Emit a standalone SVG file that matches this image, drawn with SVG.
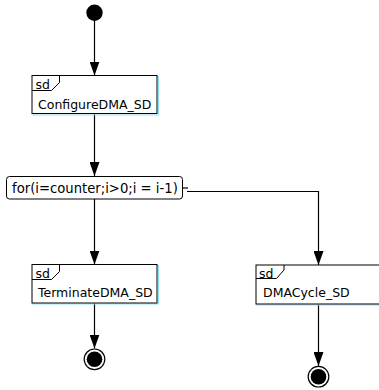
<svg xmlns="http://www.w3.org/2000/svg" width="379" height="390" viewBox="0 0 379 390">
  <style>
    .edge { fill: none; stroke: #000; stroke-width: 1.2; }
    .frame-glow { fill: none; stroke: #8fe3f0; stroke-width: 1; }
    .frame { fill: #fff; stroke: #000; stroke-width: 1; }
    .tab { fill: none; stroke: #000; stroke-width: 1; }
    .label { font-family: "DejaVu Sans", sans-serif; font-size: 12.5px; fill: #000; }
    .guard { font-family: "DejaVu Sans", sans-serif; font-size: 13.2px; fill: #000; }
  </style>
  <defs>
    <marker id="arrow" viewBox="0 0 14 10" refX="14" refY="5" markerWidth="14" markerHeight="10" markerUnits="userSpaceOnUse" orient="auto">
      <path d="M0,0 L14,5 L0,10 Z" fill="#000"/>
    </marker>
  </defs>

  <!-- connectors -->
  <g id="connectors">
    <line class="edge" x1="94.5" y1="13" x2="94.5" y2="75.5" marker-end="url(#arrow)"/>
    <line class="edge" x1="94.5" y1="114" x2="94.5" y2="176" marker-end="url(#arrow)"/>
    <line class="edge" x1="94.5" y1="199" x2="94.5" y2="264.5" marker-end="url(#arrow)"/>
    <line class="edge" x1="94.5" y1="303.5" x2="94.5" y2="348.5" marker-end="url(#arrow)"/>
    <line class="edge" x1="183" y1="188" x2="188" y2="188"/>
    <polyline class="edge" points="187,191.5 318.5,191.5 318.5,265" marker-end="url(#arrow)"/>
    <line class="edge" x1="318.5" y1="304.5" x2="318.5" y2="366" marker-end="url(#arrow)"/>
  </g>

  <!-- initial node -->
  <g id="start">
    <circle cx="94.5" cy="12.7" r="8.2" fill="#000"/>
  </g>

  <!-- ConfigureDMA_SD -->
  <g id="configure">
    <rect class="frame-glow" x="33" y="76.5" width="125.5" height="38.5"/>
    <rect class="frame" x="32" y="75.5" width="125" height="38"/>
    <path class="tab" d="M32,90.5 H51.5 L59.5,82.5 V75.5"/>
    <text class="label" x="35.5" y="88.5">sd</text>
    <text class="label" x="38" y="109">ConfigureDMA_SD</text>
  </g>

  <!-- loop decision -->
  <g id="loop">
    <rect x="6.5" y="176.5" width="176" height="22.5" rx="3" ry="3" fill="#fff" stroke="#000" stroke-width="1"/>
    <text class="guard" x="12" y="193">for(i=counter;i&gt;0;i = i-1)</text>
  </g>

  <!-- TerminateDMA_SD -->
  <g id="terminate">
    <rect class="frame-glow" x="33" y="265.5" width="125.5" height="38.5"/>
    <rect class="frame" x="32" y="264.5" width="125" height="38.5"/>
    <path class="tab" d="M32,279.5 H51.5 L59.5,271.5 V264.5"/>
    <text class="label" x="35.5" y="277.5">sd</text>
    <text class="label" x="38" y="297">TerminateDMA_SD</text>
  </g>

  <!-- DMACycle_SD -->
  <g id="dmacycle">
    <rect class="frame-glow" x="257" y="266" width="126" height="39"/>
    <rect class="frame" x="256" y="265" width="126" height="39"/>
    <path class="tab" d="M256,278.5 H276.5 L284,270 V265"/>
    <text class="label" x="259" y="277.5">sd</text>
    <text class="label" x="263" y="297">DMACycle_SD</text>
  </g>

  <!-- final nodes -->
  <g id="end-terminate">
    <circle cx="94.5" cy="359.3" r="10.3" fill="#fff" stroke="#000" stroke-width="1.2"/>
    <circle cx="94.5" cy="359.3" r="7.8" fill="#000"/>
  </g>
  <g id="end-cycle">
    <circle cx="318.5" cy="376.7" r="10.3" fill="#fff" stroke="#000" stroke-width="1.2"/>
    <circle cx="318.5" cy="376.7" r="7.8" fill="#000"/>
  </g>
</svg>
